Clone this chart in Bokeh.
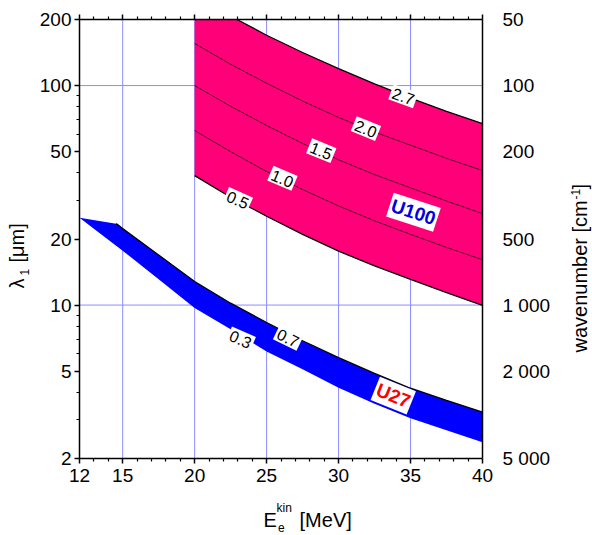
from bokeh.plotting import figure
from bokeh.models import Range1d, LinearAxis, LogAxis, LogScale, FixedTicker, Label
from bokeh.embed import file_html
from bokeh.resources import INLINE

# ---------------- data ----------------
x_ticks = [12, 15, 20, 25, 30, 35, 40]
x_minor = [13, 14, 16, 17, 18, 19, 21, 22, 23, 24, 26, 27, 28, 29,
           31, 32, 33, 34, 36, 37, 38, 39]
x_grid = [15, 20, 25, 30, 35]
y_ticks = [2, 5, 10, 20, 50, 100, 200]
y_minor = [3, 4, 6, 7, 8, 9, 30, 40, 60, 70, 80, 90]
y_grid = [10, 100]
wn_ticks = [50, 100, 200, 500, 1000, 2000, 5000]
wn_labels = ["50", "100", "200", "500", "1 000", "2 000", "5 000"]

# U100 undulator (pink band), lambda_1 [um] vs E [MeV] for K values
u100_E = [20, 22.5, 25, 27.5, 30, 32.5, 35, 37.5, 40]
u100_K05 = [38.9, 31.0, 25.4, 21.0, 17.6, 15.1, 13.1, 11.4, 9.96]
u100_K10 = [62.4, 50.0, 40.6, 33.6, 28.3, 24.2, 21.0, 18.3, 16.1]
u100_K15 = [100, 80.5, 65.8, 54.5, 45.9, 39.3, 34.2, 29.8, 26.1]
u100_K20 = [155.6, 125, 102.5, 85.0, 71.6, 61.4, 53.5, 46.6, 41.0]
u100_top_E = [20, 22.95, 25, 27.5, 30, 32.5, 35, 37.5, 40]
u100_K27 = [200, 200, 169.5, 141.5, 119.5, 101.8, 87.6, 76.3, 67.1]

# U27 undulator (blue band)
u27_top_E = [12, 14.55, 15, 17.5, 20, 22.5, 25, 27.5, 30, 32.5, 35, 37.5, 40]
u27_K07 = [25.0, 23.5, 22.3, 16.9, 12.8, 10.2, 8.33, 6.88, 5.76, 4.88, 4.18, 3.68, 3.25]
u27_bot_E = [12, 15, 17.5, 20, 22.5, 25, 27.5, 30, 32.5, 35, 37.5, 40]
u27_K03 = [25.0, 17.7, 13.1, 9.7, 7.75, 6.15, 5.1, 4.2, 3.55, 3.05, 2.69, 2.37]

# contour labels: text, E, lambda, angle(deg)
k_labels = ["2.7", "2.0", "1.5", "1.0", "0.5", "0.3", "0.7"]
k_lab_E = [34.5, 31.9, 28.8, 26.1, 23.0, 23.2, 26.5]
k_lab_L = [89.5, 63.7, 50.5, 37.8, 30.2, 7.0, 7.1]
k_lab_ang = [-20, -22, -22, -23, -24, -24, -26]

FONT = "Liberation Sans"
PINK = "#FF0078"
BLUE = "#0000FF"

# ---------------- canvas / chart box ----------------
W, H = 592, 535
PX_L, PX_R, PX_T, PX_B = 79, 482, 19, 458          # chart box in canvas pixels
x0, x1 = x_ticks[0], x_ticks[-1]
y0, y1 = y_ticks[0], y_ticks[-1]
sx = (x1 - x0) / (PX_R - PX_L)
ly = (y1 / y0) ** (1.0 / (PX_B - PX_T))             # factor per pixel (log axis)
x_lo, x_hi = x0 - PX_L * sx, x1 + (W - PX_R) * sx
y_lo, y_hi = y0 / ly ** (H - PX_B), y1 * ly ** PX_T

p = figure(width=W, height=H, x_range=Range1d(x_lo, x_hi), y_range=Range1d(y_lo, y_hi),
           y_axis_type="log", output_backend="svg", toolbar_location=None)
p.min_border = 0
p.min_border_left = 0
p.min_border_right = 0
p.min_border_top = 0
p.min_border_bottom = 0
p.outline_line_color = None
p.background_fill_color = "white"
p.border_fill_color = "white"
p.xgrid.visible = False
p.ygrid.visible = False

def style_axis(ax):
    ax.axis_line_color = "black"
    ax.axis_line_width = 1.5
    ax.major_tick_line_color = "black"
    ax.major_tick_line_width = 1.5
    ax.minor_tick_line_color = "black"
    ax.minor_tick_line_width = 1.2
    ax.major_tick_in = 0
    ax.major_tick_out = 5
    ax.minor_tick_in = 0
    ax.minor_tick_out = 3
    ax.major_label_text_font = FONT
    ax.major_label_text_font_size = "19px"
    ax.major_label_text_color = "black"

bottom = p.below[0]
bottom.ticker = FixedTicker(ticks=x_ticks, minor_ticks=x_minor)
bottom.major_label_overrides = {t: str(t) for t in x_ticks}
style_axis(bottom)
bottom.major_label_standoff = 5
bottom.fixed_location = y0
bottom.bounds = (x0, x1)

left = p.left[0]
left.ticker = FixedTicker(ticks=y_ticks, minor_ticks=y_minor)
left.major_label_overrides = {t: str(t) for t in y_ticks}
style_axis(left)
left.major_label_standoff = 3
left.fixed_location = x0
left.bounds = (y0, y1)

top = LinearAxis(ticker=FixedTicker(ticks=x_ticks, minor_ticks=x_minor))
style_axis(top)
top.major_label_overrides = {t: "" for t in x_ticks}
top.major_label_text_font_size = "0px"
top.major_label_standoff = 0
top.fixed_location = y1
top.bounds = (x0, x1)
p.add_layout(top, "above")

p.extra_y_ranges = {"wn": Range1d(start=1e4 / y_lo, end=1e4 / y_hi)}
p.extra_y_scales = {"wn": LogScale()}
right = LogAxis(y_range_name="wn", ticker=FixedTicker(ticks=wn_ticks))
style_axis(right)
right.major_label_overrides = dict(zip(wn_ticks, wn_labels))
right.major_tick_out = 0
right.minor_tick_out = 0
right.major_label_standoff = 20
right.fixed_location = x1
right.bounds = (wn_ticks[0], wn_ticks[-1])
p.add_layout(right, "right")

# ---------------- grid lines ----------------
GRID = "#8C8CFF"
p.segment(x0=x_grid, y0=[y0] * len(x_grid), x1=x_grid, y1=[y1] * len(x_grid),
          line_color=GRID, line_width=1)
p.segment(x0=[x0] * len(y_grid), y0=y_grid, x1=[x1] * len(y_grid), y1=y_grid,
          line_color=GRID, line_width=1)

# ---------------- U100 band ----------------
px = u100_top_E[:] + u100_E[::-1]
py = u100_K27[:] + u100_K05[::-1]
p.patch(px, py, fill_color=PINK, line_color=None)
for arr in (u100_K10, u100_K15, u100_K20):
    p.line(u100_E, arr, line_color="black", line_width=0.8, line_alpha=0.85)
p.line(u100_E, u100_K05, line_color="black", line_width=1.3)
p.line(u100_top_E[1:], u100_K27[1:], line_color="black", line_width=1.3)

# ---------------- U27 band ----------------
bx = u27_top_E[:] + u27_bot_E[::-1]
by = u27_K07[:] + u27_K03[::-1]
p.patch(bx, by, fill_color=BLUE, line_color=None)
p.line(u27_top_E[1:], u27_K07[1:], line_color="black", line_width=1.3)

# ---------------- labels ----------------
for t, e, l, a in zip(k_labels, k_lab_E, k_lab_L, k_lab_ang):
    p.add_layout(Label(x=e, y=l, text=t, angle=a, angle_units="deg",
                       text_align="center", text_baseline="middle",
                       text_font=FONT, text_font_size="16px", text_color="black",
                       background_fill_color="white", padding=2))

p.add_layout(Label(x=35.2, y=26.5, text="U100", angle=-18, angle_units="deg",
                   text_align="center", text_baseline="middle",
                   text_font=FONT, text_font_size="19px", text_font_style="bold",
                   text_color="#0000E0", background_fill_color="white", padding=2))
p.add_layout(Label(x=33.8, y=3.87, text="U27", angle=-22, angle_units="deg",
                   text_align="center", text_baseline="middle",
                   text_font=FONT, text_font_size="19px", text_font_style="bold",
                   text_color="#FF0000", background_fill_color="white", padding=2))

# ---------------- axis titles ----------------
def add_text(x, y, text, size, angle=0):
    p.add_layout(Label(x=x, y=y, text=text, angle=angle, angle_units="deg",
                       text_align="left", text_baseline="middle",
                       text_font=FONT, text_font_size=size, text_color="black"))

# bottom: E_e^kin [MeV]
add_text(24.78, 1.044, "E", "20px")
add_text(25.69, 1.184, "kin", "12px")
add_text(25.79, 0.970, "e", "12px")
add_text(27.29, 1.044, "[MeV]", "20px")

# left: lambda_1 [um]
add_text(7.69, 11.9, "λ", "20px", angle=90)
add_text(8.18, 13.64, "1", "12px", angle=90)
add_text(7.69, 15.63, "[μm]", "20px", angle=90)

# right: wavenumber [cm^-1]
add_text(46.74, 6.08, "wavenumber [cm", "20px", angle=90)
add_text(46.46, 30.27, "-1", "12px", angle=90)
add_text(46.74, 33.6, "]", "20px", angle=90)

open("out.html", "w").write(file_html(p, INLINE))
